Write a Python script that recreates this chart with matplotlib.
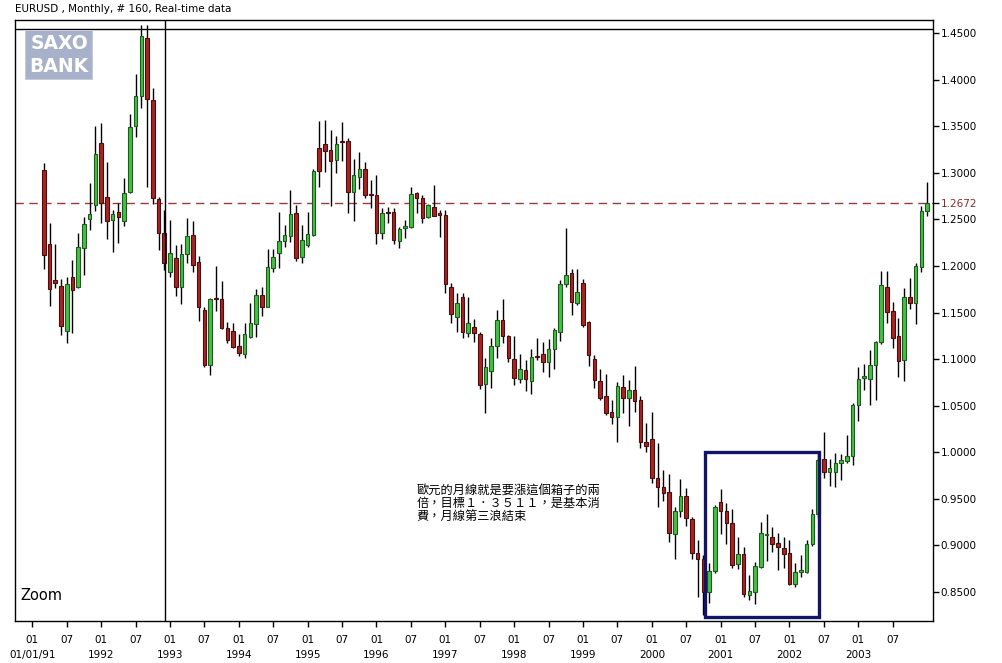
import matplotlib
matplotlib.use("Agg")
import matplotlib.pyplot as plt
from matplotlib.patches import Rectangle
from matplotlib.transforms import blended_transform_factory, ScaledTranslation

# ---------------- data (monthly EURUSD, Mar 1991 .. Jan 2004) ----------------
start_month = "1991-03"
opens = [1.303, 1.2235, 1.1849, 1.1788, 1.1305, 1.1877, 1.1777, 1.2196, 1.2500, 1.2654,
         1.3323, 1.2743, 1.2493, 1.2583, 1.2479, 1.2797, 1.3502, 1.3824, 1.4443, 1.3781,
         1.2715, 1.2350, 1.1938, 1.2090, 1.1770, 1.2128, 1.2328, 1.2039, 1.1527, 1.0937,
         1.1649, 1.1642, 1.1330, 1.1301, 1.1141, 1.1055, 1.1233, 1.1377, 1.1688, 1.1563,
         1.1974, 1.2142, 1.2271, 1.2325, 1.2565, 1.2093, 1.2221, 1.2332, 1.3262, 1.3309,
         1.3244, 1.3137, 1.3338, 1.3345, 1.2797, 1.2951, 1.3037, 1.2763, 1.2761, 1.2357,
         1.2574, 1.2579, 1.2264, 1.2403, 1.2421, 1.2779, 1.2726, 1.2522, 1.2636, 1.2565,
         1.2547, 1.1778, 1.1456, 1.1663, 1.1284, 1.1341, 1.1269, 1.0729, 1.0869, 1.1141,
         1.1420, 1.1248, 1.0998, 1.0783, 1.0883, 1.0765, 1.1028, 1.1055, 1.0972, 1.1105,
         1.1295, 1.1803, 1.1921, 1.1606, 1.1813, 1.1395, 1.0998, 1.0769, 1.0600, 1.0427,
         1.0378, 1.0697, 1.0579, 1.0672, 1.0561, 1.0114, 1.0139, 0.9720, 0.9631, 0.9570,
         0.9123, 0.9373, 0.9534, 0.9282, 0.8915, 0.8851, 0.8504, 0.8729, 0.9470, 0.9373,
         0.9237, 0.8797, 0.8904, 0.8468, 0.8504, 0.8772, 0.9110, 0.9087, 0.9023, 0.8969,
         0.8915, 0.8586, 0.8711, 0.8711, 0.9012, 0.9338, 0.9924, 0.9785, 0.9792, 0.9881,
         0.9910, 0.9960, 1.0508, 1.0794, 1.0783, 1.0937, 1.1180, 1.1771, 1.1516, 1.1248,
         1.0990, 1.1663, 1.1599, 1.1985, 1.2593]
highs = [1.310, 1.2464, 1.2235, 1.1856, 1.1877, 1.2063, 1.2350, 1.2529, 1.2886, 1.3502,
         1.3530, 1.3119, 1.2600, 1.2680, 1.2940, 1.3627, 1.4060, 1.4586, 1.4586, 1.3906,
         1.2743, 1.2600, 1.2493, 1.2225, 1.2235, 1.2511, 1.2486, 1.2107, 1.1563, 1.1652,
         1.2000, 1.1842, 1.1402, 1.1391, 1.1266, 1.1391, 1.1599, 1.1749, 1.1777, 1.2178,
         1.2178, 1.2579, 1.2439, 1.2815, 1.2654, 1.2439, 1.2582, 1.3037, 1.3559, 1.3566,
         1.3459, 1.3395, 1.3545, 1.3370, 1.3144, 1.3226, 1.3119, 1.2922, 1.2976, 1.2618,
         1.2636, 1.2618, 1.2414, 1.2493, 1.2844, 1.2794, 1.2761, 1.2665, 1.2869, 1.2600,
         1.2600, 1.1821, 1.1706, 1.1706, 1.1670, 1.1427, 1.1294, 1.1008, 1.1223, 1.1527,
         1.1642, 1.1259, 1.1248, 1.1055, 1.0990, 1.1105, 1.1223, 1.1187, 1.1212, 1.1330,
         1.1849, 1.2403, 1.1964, 1.1964, 1.1856, 1.1413, 1.1044, 1.0890, 1.0840, 1.0565,
         1.0755, 1.0833, 1.0776, 1.0922, 1.0604, 1.0311, 1.0429, 1.0096, 0.9810, 0.9763,
         0.9416, 0.9710, 0.9613, 0.9309, 0.9058, 0.8900, 0.8808, 0.9434, 0.9602, 0.9452,
         0.9388, 0.9094, 0.8987, 0.8683, 0.8826, 0.9248, 0.9334, 0.9194, 0.9130, 0.9094,
         0.9058, 0.8808, 0.8897, 0.9058, 0.9388, 0.9990, 1.0214, 0.9928, 0.9996, 0.9981,
         1.0185, 1.0525, 1.0919, 1.0947, 1.1098, 1.1194, 1.1949, 1.1949, 1.1617, 1.1438,
         1.1760, 1.1867, 1.2028, 1.2643, 1.2904]
lows = [1.197, 1.1573, 1.1760, 1.1259, 1.1169, 1.1277, 1.1760, 1.1903, 1.2386, 1.2593,
        1.2464, 1.2285, 1.2146, 1.2250, 1.2429, 1.2786, 1.3380, 1.3699, 1.2851, 1.2665,
        1.2171, 1.1956, 1.1877, 1.1677, 1.1591, 1.2028, 1.1931, 1.1412, 1.0919, 1.0829,
        1.1520, 1.1320, 1.1176, 1.1116, 1.1033, 1.1008, 1.1223, 1.1233, 1.1463, 1.1556,
        1.1938, 1.1974, 1.2207, 1.2260, 1.2056, 1.2028, 1.2207, 1.2321, 1.2851, 1.3012,
        1.2643, 1.3001, 1.3130, 1.2572, 1.2486, 1.2822, 1.2726, 1.2618, 1.2235, 1.2285,
        1.2457, 1.2235, 1.2189, 1.2296, 1.2403, 1.2572, 1.2464, 1.2511, 1.2536, 1.2307,
        1.1706, 1.1391, 1.1294, 1.1223, 1.1241, 1.1187, 1.0676, 1.0425, 1.0686, 1.1008,
        1.1176, 1.0972, 1.0722, 1.0740, 1.0661, 1.0625, 1.0990, 1.0865, 1.0805, 1.0890,
        1.1198, 1.1778, 1.1473, 1.1581, 1.1348, 1.0926, 1.0686, 1.0561, 1.0400, 1.0300,
        1.0114, 1.0418, 1.0286, 1.0436, 1.0042, 0.9999, 0.9674, 0.9409, 0.9480, 0.9041,
        0.8851, 0.9302, 0.9209, 0.8851, 0.8450, 0.8250, 0.8386, 0.8708, 0.9123, 0.9016,
        0.8761, 0.8743, 0.8450, 0.8414, 0.8368, 0.8754, 0.8836, 0.8933, 0.8736, 0.8754,
        0.8575, 0.8558, 0.8658, 0.8701, 0.8994, 0.9290, 0.9720, 0.9638, 0.9624, 0.9702,
        0.9888, 0.9863, 1.0339, 1.0668, 1.0508, 1.0561, 1.1162, 1.1391, 1.1116, 1.0805,
        1.0769, 1.1534, 1.1377, 1.1939, 1.2536]
closes = [1.212, 1.1749, 1.1813, 1.1359, 1.1802, 1.1742, 1.2207, 1.2446, 1.2554, 1.3198,
          1.2672, 1.2482, 1.2554, 1.2522, 1.2786, 1.3495, 1.3824, 1.4468, 1.3788, 1.2725,
          1.2357, 1.2028, 1.2135, 1.1770, 1.2126, 1.2321, 1.2006, 1.1556, 1.0937, 1.1642,
          1.1645, 1.1337, 1.1205, 1.1126, 1.1062, 1.1266, 1.1384, 1.1688, 1.1563, 1.1985,
          1.2093, 1.2271, 1.2332, 1.2557, 1.2082, 1.2278, 1.2343, 1.3019, 1.3022, 1.3237,
          1.3130, 1.3309, 1.3330, 1.2790, 1.2976, 1.3037, 1.2761, 1.2759, 1.2357, 1.2565,
          1.2570, 1.2278, 1.2393, 1.2432, 1.2768, 1.2733, 1.2511, 1.2654, 1.2536, 1.2543,
          1.1803, 1.1484, 1.1599, 1.1294, 1.1391, 1.1277, 1.0722, 1.0919, 1.1141, 1.1420,
          1.1248, 1.1008, 1.0794, 1.0890, 1.0783, 1.1019, 1.1024, 1.0972, 1.1105, 1.1312,
          1.1803, 1.1899, 1.1609, 1.1724, 1.1366, 1.1044, 1.0776, 1.0579, 1.0425, 1.0375,
          1.0713, 1.0579, 1.0672, 1.0547, 1.0107, 1.0071, 0.9720, 0.9631, 0.9559, 0.9130,
          0.9373, 0.9534, 0.9291, 0.8915, 0.8851, 0.8504, 0.8729, 0.9409, 0.9373, 0.9237,
          0.8790, 0.8904, 0.8475, 0.8511, 0.8779, 0.9130, 0.9114, 0.9016, 0.8980, 0.8904,
          0.8586, 0.8711, 0.8736, 0.9016, 0.9338, 0.9920, 0.9785, 0.9827, 0.9881, 0.9917,
          0.9960, 1.0508, 1.0783, 1.0819, 1.0937, 1.1187, 1.1796, 1.1509, 1.1230, 1.0983,
          1.1663, 1.1599, 1.2003, 1.2593, 1.2672]

last_price = 1.2672
yticks = [0.85, 0.90, 0.95, 1.00, 1.05, 1.10, 1.15, 1.20, 1.25, 1.30, 1.35, 1.40, 1.45]
axis_start = "1991-01"
tick_months = ["01", "07"]
first_year_label = "01/01/91"
years = list(range(1991, 2004))
cross_month = "1992-12"
cross_price = 1.4540
box_from, box_to = "2000-10", "2002-06"
box_low, box_high = 0.8235, 1.0000
title = "EURUSD , Monthly, # 160, Real-time data"
note_lines = ["歐元的月線就是要漲這個箱子的兩", "倍，目標１．３５１１，是基本消", "費，月線第三浪結束"]
note_month, note_price = "1996-08", 0.9665


def midx(s):
    y, m = s.split("-")
    y0, m0 = axis_start.split("-")
    return (int(y) - int(y0)) * 12 + int(m) - int(m0)


# ---------------- figure ----------------
W, H = 1003, 663
fig = plt.figure(figsize=(W / 100, H / 100), dpi=100)
fig.patch.set_facecolor("white")
L, R, T, B = 15, 933, 19.5, 621
ax = fig.add_axes([L / W, 1 - B / H, (R - L) / W, (B - T) / H])
ax.set_xlim(-3.02, 157.02)
ax.set_ylim(0.8189, 1.4645)
for s in ax.spines.values():
    s.set_linewidth(1.0)
    s.set_color("black")

s0 = midx(start_month)
green_f, green_e = "#44c044", "#1f5a1f"
red_f, red_e = "#a82424", "#4a0e0e"
bw = 0.62
for k, (o, h, l, c) in enumerate(zip(opens, highs, lows, closes)):
    x = s0 + k
    ax.plot([x, x], [l, h], color="black", lw=1.0, solid_capstyle="butt", zorder=2)
    up = c >= o
    lo, hi = min(o, c), max(o, c)
    hgt = max(hi - lo, 0.0012)
    ax.add_patch(Rectangle((x - bw / 2, lo), bw, hgt,
                           facecolor=green_f if up else red_f,
                           edgecolor=green_e if up else red_e, lw=0.8, zorder=3))

# last price line
ax.axhline(last_price, color="#9a3a3a", lw=1.0, ls=(0, (6, 4)), zorder=1)

# crosshair
ax.axvline(midx(cross_month) + 0.1, color="black", lw=1.0, zorder=4)
ax.axhline(cross_price, color="black", lw=1.0, zorder=4)

# box
bx0 = midx(box_from) + 0.3
bx1 = midx(box_to) + 0.1
ax.add_patch(Rectangle((bx0, box_low), bx1 - bx0, box_high - box_low,
                       fill=False, edgecolor="#141466", lw=2.4, zorder=5))

# y axis on right
ax.yaxis.tick_right()
ticks = yticks + [last_price]
ax.set_yticks(ticks)
ax.set_yticklabels([f"{t:.4f}" for t in ticks])
ax.tick_params(axis="y", direction="out", length=4, width=1, pad=1.5, labelsize=7.5)
for lab, t in zip(ax.get_yticklabels(), ticks):
    if t == last_price:
        lab.set_color("#8b2a2a")

# x axis
xt, xl = [], []
for y in years:
    for m in tick_months:
        xt.append(midx(f"{y}-{m}"))
        xl.append(m)
ax.set_xticks(xt)
ax.set_xticklabels(xl)
ax.tick_params(axis="x", direction="out", length=4, width=1, pad=6, labelsize=7.5)
tr = blended_transform_factory(ax.transData, fig.transFigure)
for y in years:
    lab = first_year_label if y == years[0] else str(y)
    ax.text(midx(f"{y}-01"), 1 - 655 / H, lab, transform=tr, ha="center", va="center",
            fontsize=7.5)

# title
fig.text(15 / W, 1 - 9 / H, title, ha="left", va="center", fontsize=7.5)

# Zoom label
fig.text(20 / W, 1 - 596 / H, "Zoom", ha="left", va="center", fontsize=10.5)

# Saxo bank logo
logo_ax = fig.add_axes([25 / W, 1 - 80 / H, 68 / W, 50 / H])
logo_ax.set_xlim(0, 1)
logo_ax.set_ylim(0, 1)
logo_ax.axis("off")
logo_ax.add_patch(Rectangle((0, 0), 1, 1, facecolor="#a7b1c9", edgecolor="#c4cadb", lw=1.5))
logo_ax.text(0.5, 0.73, "SAXO", ha="center", va="center", color="white",
             fontsize=13.5, fontweight="bold", family="DejaVu Sans")
logo_ax.text(0.5, 0.26, "BANK", ha="center", va="center", color="white",
             fontsize=13.5, fontweight="bold", family="DejaVu Sans")

# note
for j, line in enumerate(note_lines):
    ax.text(midx(note_month), note_price, line, ha="left", va="top",
            fontsize=8.8, family=["Noto Sans CJK TC", "DejaVu Sans"],
            transform=ax.transData + ScaledTranslation(0, -j * 13 / 100, fig.dpi_scale_trans),
            zorder=6)

fig.savefig("out.png", dpi=100, facecolor="white")
